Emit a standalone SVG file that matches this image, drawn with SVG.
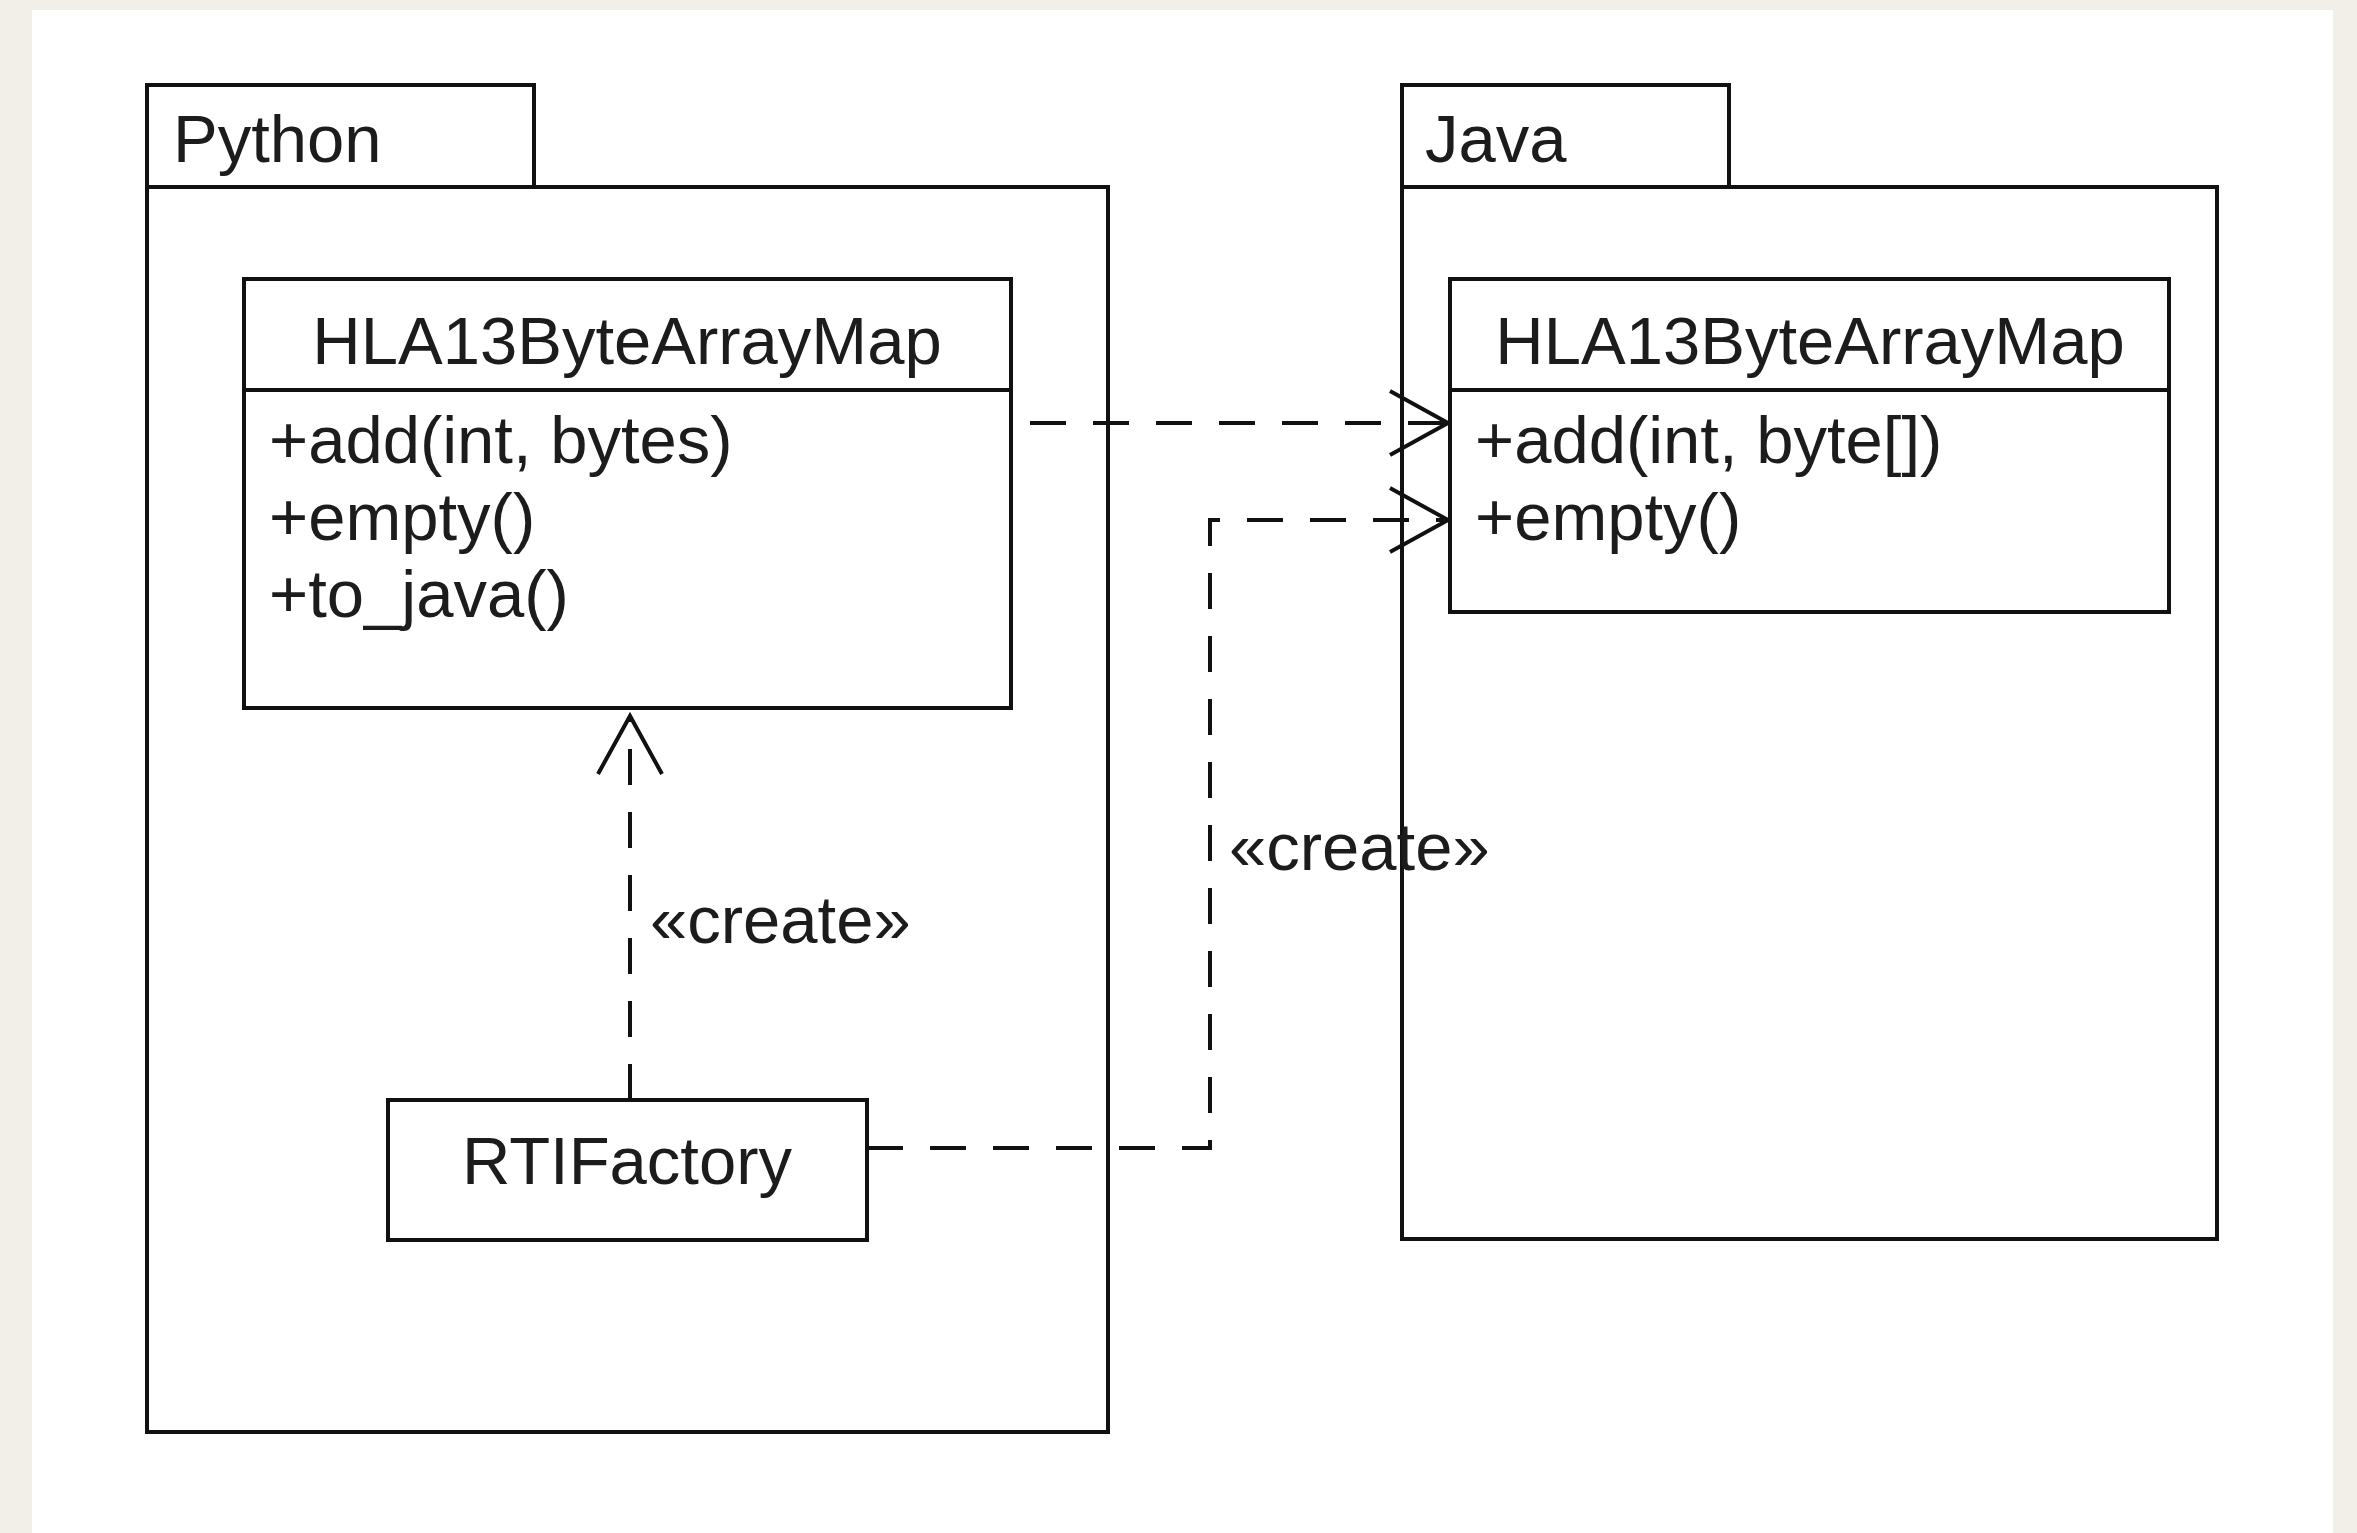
<svg xmlns="http://www.w3.org/2000/svg" width="2357" height="1533" viewBox="0 0 2357 1533">
<style>
.box{fill:#fff;stroke:#111;stroke-width:4}
.sep{stroke:#111;stroke-width:4}
.t{font-family:"Liberation Sans",Arial,sans-serif;font-size:67px;fill:#1c1c1c}
.c{text-anchor:middle}
.conn{fill:none;stroke:#111;stroke-width:4;stroke-dasharray:36 27}
</style>
<defs>
<marker id="open" markerUnits="userSpaceOnUse" markerWidth="80" markerHeight="80" viewBox="-70 -40 80 80" refX="0" refY="0" orient="auto">
<path d="M-58,-32 L0,0 L-58,32" fill="none" stroke="#111" stroke-width="4" style="stroke-dasharray:none"/>
</marker>
</defs>
<rect x="0" y="0" width="2357" height="1533" fill="#f2efe9"/>
<rect x="32" y="10" width="2301" height="1523" fill="#ffffff"/>

<g id="pkg-python">
<rect class="box" x="147" y="85" width="387" height="102"/>
<rect class="box" x="147" y="187" width="961" height="1245"/>
<text class="t" x="173" y="162">Python</text>
</g>

<g id="pkg-java">
<rect class="box" x="1402" y="85" width="327" height="102"/>
<rect class="box" x="1402" y="187" width="815" height="1052"/>
<text class="t" x="1425" y="162">Java</text>
</g>

<g id="py-map">
<rect class="box" x="244" y="279" width="767" height="429"/>
<line class="sep" x1="244" y1="390" x2="1011" y2="390"/>
<text class="t c" x="627" y="364">HLA13ByteArrayMap</text>
<text class="t" x="269" y="463">+add(int, bytes)</text>
<text class="t" x="269" y="540">+empty()</text>
<text class="t" x="269" y="617">+to_java()</text>
</g>

<g id="java-map">
<rect class="box" x="1450" y="279" width="719" height="333"/>
<line class="sep" x1="1450" y1="390" x2="2169" y2="390"/>
<text class="t c" x="1810" y="364">HLA13ByteArrayMap</text>
<text class="t" x="1475" y="463">+add(int, byte[])</text>
<text class="t" x="1475" y="540">+empty()</text>
</g>

<g id="rtifactory">
<rect class="box" x="388" y="1100" width="479" height="140"/>
<text class="t c" x="627" y="1184">RTIFactory</text>
</g>

<g id="connectors">
<path class="conn" d="M630,1100 L630,716" marker-end="url(#open)"/>
<path class="conn" d="M1011,423 L1448,423" style="stroke-dashoffset:44" marker-end="url(#open)"/>
<path class="conn" d="M867,1148 L1210,1148 L1210,520 L1448,520" marker-end="url(#open)"/>
<text class="t" x="650" y="943">«create»</text>
<text class="t" x="1229" y="870">«create»</text>
</g>
</svg>
